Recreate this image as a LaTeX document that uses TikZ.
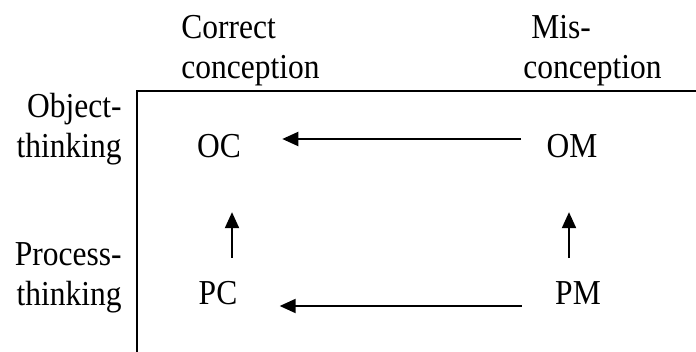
\documentclass[tikz,border=0pt]{standalone}
\usepackage{fontspec}
\setmainfont[FakeStretch=0.9]{Liberation Serif}
\usetikzlibrary{arrows.meta}

\tikzstyle{term} = [inner sep=0pt, font=\fontsize{17.5}{20}\selectfont]
\tikzstyle{heading} = [term, align=left, anchor=north west]
\tikzstyle{side} = [term, align=right, anchor=north east]
\tikzstyle{arrow} = [line width=1pt, -{Triangle[length=8pt,width=7pt]}]

\begin{document}
\begin{tikzpicture}[x=0.5pt, y=-0.5pt]
		\useasboundingbox (0,0) rectangle (696,352);
		\draw [line width=1.35pt] (696,91) -- (137,91) -- (137,352);

		\node (corr) [heading] at (181,15) {Correct\\conception};
		\node (mis) [heading] at (523,15) {\ Mis-\\conception};
		\node (obj) [side] at (122,93) {Object-\\thinking};
		\node (proc) [side] at (122,242) {Process-\\thinking};

		\node (oc) [term] at (219,146) {OC};
		\node (om) [term] at (572,146) {OM};
		\node (pc) [term] at (218,293) {PC};
		\node (pm) [term] at (578,293) {PM};

		\draw [arrow, shorten <=12.5pt, shorten >=20.5pt] ([yshift=3.5pt]om.west) -- ([yshift=3.5pt]oc.east);
		\draw [arrow, shorten <=16.5pt, shorten >=21pt] ([yshift=-6.5pt]pm.west) -- ([yshift=-6.5pt]pc.east);
		\draw [arrow, shorten <=11.5pt, shorten >=27pt] ([xshift=7pt]pc.north) -- ([xshift=7pt]pc.north |- oc.south);
		\draw [arrow, shorten <=11.5pt, shorten >=27pt] ([xshift=-4.5pt]pm.north) -- ([xshift=-4.5pt]pm.north |- om.south);
	\end{tikzpicture}
\end{document}
